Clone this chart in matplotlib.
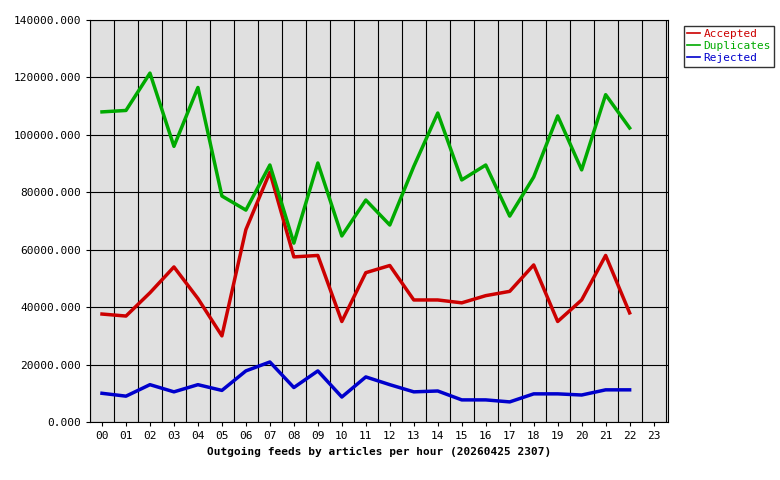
import matplotlib

matplotlib.use("Agg")

import matplotlib.pyplot as plt

hours = ["%02d" % h for h in range(24)]
accepted = [37600, 36900, 45000, 54000, 43000, 30000, 67000, 87000, 57500, 58000, 35000, 52000,
            54500, 42500, 42500, 41500, 44000, 45500, 54700, 35000, 42500, 58000, 38000]
duplicates = [108000, 108500, 121500, 96000, 116500, 78700, 73800, 89500, 62300, 90200, 64800, 77300,
              68600, 89000, 107600, 84300, 89500, 71700, 85300, 106600, 87800, 114000, 102400]
rejected = [10000, 9000, 13000, 10500, 13000, 11000, 17800, 20900, 12000, 17800, 8700, 15700,
            13000, 10500, 10800, 7700, 7700, 7000, 9800, 9800, 9400, 11200, 11200]

plt.rcParams["font.family"] = ["DejaVu Sans Mono"]
plt.rcParams["font.size"] = 8

fig = plt.figure(figsize=(7.8, 4.8), dpi=100)
ax = fig.add_axes([90 / 780, 58 / 480, 578 / 780, 402 / 480])
ax.set_facecolor("#e0e0e0")
x = list(range(len(accepted)))
ax.plot(x, accepted, color="#cc0000", lw=2.5, label="Accepted")
ax.plot(x, duplicates, color="#00aa00", lw=2.5, label="Duplicates")
ax.plot(x, rejected, color="#0000cc", lw=2.5, label="Rejected")
ax.set_xlim(-0.45, 23.6)
ax.set_ylim(0, 140000)
ax.set_xticks(range(24))
ax.set_xticklabels(hours)
ax.set_yticks(range(0, 140001, 20000))
ax.set_yticklabels(["%d.000" % v for v in range(0, 140001, 20000)])
ax.set_xticks([i + 0.5 for i in range(-1, 24)], minor=True)
ax.grid(True, which="minor", axis="x", color="black", lw=0.8)
ax.grid(True, which="major", axis="y", color="black", lw=0.8)
ax.tick_params(which="minor", length=0)
ax.tick_params(which="major", length=3)
ax.set_xlabel("Outgoing feeds by articles per hour (20260425 2307)", fontweight="bold", labelpad=4)

leg = fig.legend(loc="upper left", bbox_to_anchor=(678 / 780, 1 - 20 / 480), frameon=True,
                 fancybox=False, edgecolor="black", handlelength=1.2, borderpad=0.3,
                 labelspacing=0.2, handletextpad=0.3)
for t, c in zip(leg.get_texts(), ["#cc0000", "#00aa00", "#0000cc"]):
    t.set_color(c)
for h in leg.get_lines():
    h.set_linewidth(1.2)

fig.savefig("out.png", dpi=100)
